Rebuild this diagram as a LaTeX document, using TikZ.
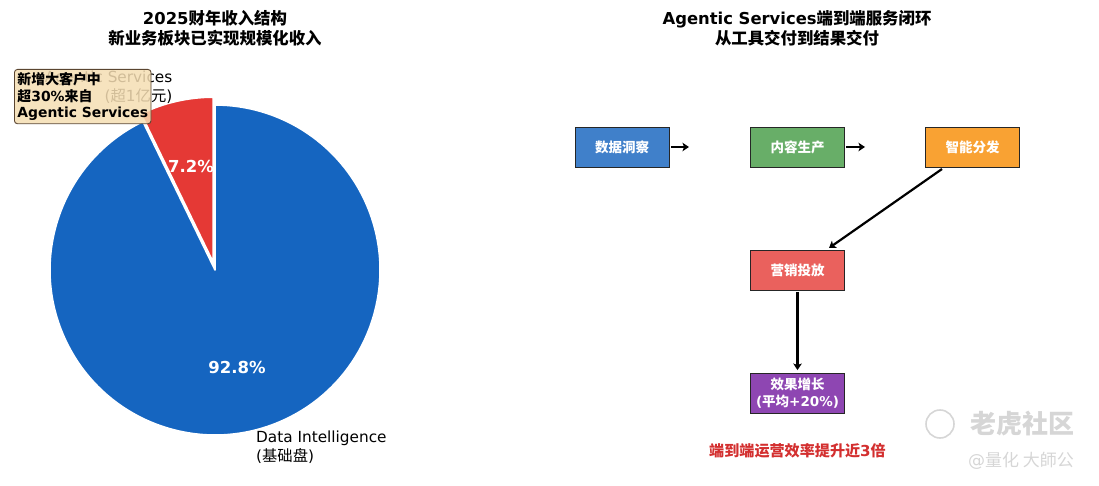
\documentclass[tikz,border=0pt]{standalone}
\usepackage{fontspec}
\setmainfont{DejaVu Sans}
\newfontfamily\cjk{Noto Sans CJK SC}
\usetikzlibrary{arrows.meta}
\newcommand{\zh}[1]{{\cjk #1}}
\definecolor{piblue}{HTML}{1565C0}
\definecolor{pired}{HTML}{E53935}
\definecolor{bblue}{HTML}{4080CA}
\definecolor{bgreen}{HTML}{68AE68}
\definecolor{borange}{HTML}{F9A233}
\definecolor{bred}{HTML}{EA615D}
\definecolor{bpurple}{HTML}{8E46B2}
\definecolor{wheatc}{HTML}{F5DEB3}
\definecolor{annoedge}{HTML}{5A4530}
\definecolor{hlred}{HTML}{D32F2F}
\definecolor{wm}{HTML}{D6D6D6}
\tikzset{
  flowbox/.style={draw=black!85, line width=0.9pt, minimum width=94pt, minimum height=40pt,
    text=white, align=center, font=\bfseries\fontsize{13.5}{16.5}\selectfont, inner sep=0pt},
  arr/.style={line width=2.2pt, -{Stealth[length=6.5pt,width=8.5pt,inset=1.5pt]}},
  wedge/.style={draw=white, line width=1.6pt, line join=round},
  pct/.style={text=white, font=\bfseries\fontsize{16.5}{19}\selectfont},
  plabel/.style={font=\fontsize{15.3}{18.4}\selectfont, inner sep=0pt},
  ttl/.style={font=\bfseries\fontsize{16.4}{20}\selectfont, align=center, inner sep=0pt}
}
\begin{document}
\begin{tikzpicture}[x=1pt,y=-1pt]
\useasboundingbox (0,0) rectangle (1099,486);

% ---------- left panel: pie ----------
\node[ttl] (t1) at (215,28) {2025\zh{财年收入结构}\\\zh{新业务板块已实现规模化收入}};

\coordinate (pc) at (215,270);
\coordinate (rc) at (213.2,262.2);
\fill[piblue, wedge] (pc) -- ++(-115.92:165) arc[start angle=-115.92, end angle=-450, radius=165] -- cycle;
\fill[pired, wedge] (rc) -- ++(-90:165) arc[start angle=-90, end angle=-115.92, radius=165] -- cycle;

\node[pct] (p1) at (191,166) {7.2\%};
\node[pct] (p2) at (237,367) {92.8\%};

\node[plabel, anchor=east, align=right] (l1) at (172.5,87) {Agentic Services\\(\zh{超}1\zh{亿元})};
\node[plabel, anchor=west, align=left] (l2) at (256,447) {Data Intelligence\\(\zh{基础盘})};

\node[anchor=north west, draw=annoedge, line width=0.9pt, rounded corners=3pt,
      fill=wheatc, fill opacity=0.85, text opacity=1, align=left, inner xsep=3pt, inner ysep=3pt,
      font=\bfseries\fontsize{13.9}{16.6}\selectfont] (anno) at (14,69)
  {\zh{新增大客户中}\\\zh{超}30\%\zh{来自}\\Agentic Services};

% ---------- right panel: flow ----------
\node[ttl] (t2) at (797,28) {Agentic Services\zh{端到端服务闭环}\\\zh{从工具交付到结果交付}};

\node[flowbox, fill=bblue]   (d1) at (622,147)   {\zh{数据洞察}};
\node[flowbox, fill=bgreen]  (d2) at (797.5,147) {\zh{内容生产}};
\node[flowbox, fill=borange] (d3) at (972.5,147) {\zh{智能分发}};
\node[flowbox, fill=bred]    (d4) at (797.5,270) {\zh{营销投放}};
\node[flowbox, fill=bpurple] (d5) at (797.5,393) {\zh{效果增长}\\(\zh{平均}+20\%)};

\coordinate (e1) at (689,147);
\coordinate (e2) at (865,147);
\coordinate (s3) at (942,169);
\coordinate (e3) at (829,248);
\draw[arr, shorten <=1.5pt] (d1) -- (e1);
\draw[arr, shorten <=1.5pt] (d2) -- (e2);
\draw[arr] (s3) -- (e3);
\draw[arr, shorten <=1.5pt, shorten >=2.5pt] (d4) -- (d5);

\node[text=hlred, font=\bfseries\fontsize{15.1}{18}\selectfont] (note) at (797.5,451)
  {\zh{端到端运营效率提升近}3\zh{倍}};

% ---------- watermark ----------
\node[circle, draw=wm, line width=1.6pt, minimum size=28pt, inner sep=0pt] (logo) at (940,424) {};
\node[text=wm, font=\bfseries\fontsize{26}{30}\selectfont, inner sep=0pt] (wm1) at (1022,424) {\zh{老虎社区}};
\node[text=wm, font=\fontsize{17}{20}\selectfont, inner sep=0pt] (wm2) at (1021,461) {@\zh{量化 大師公}};
\end{tikzpicture}
\end{document}
